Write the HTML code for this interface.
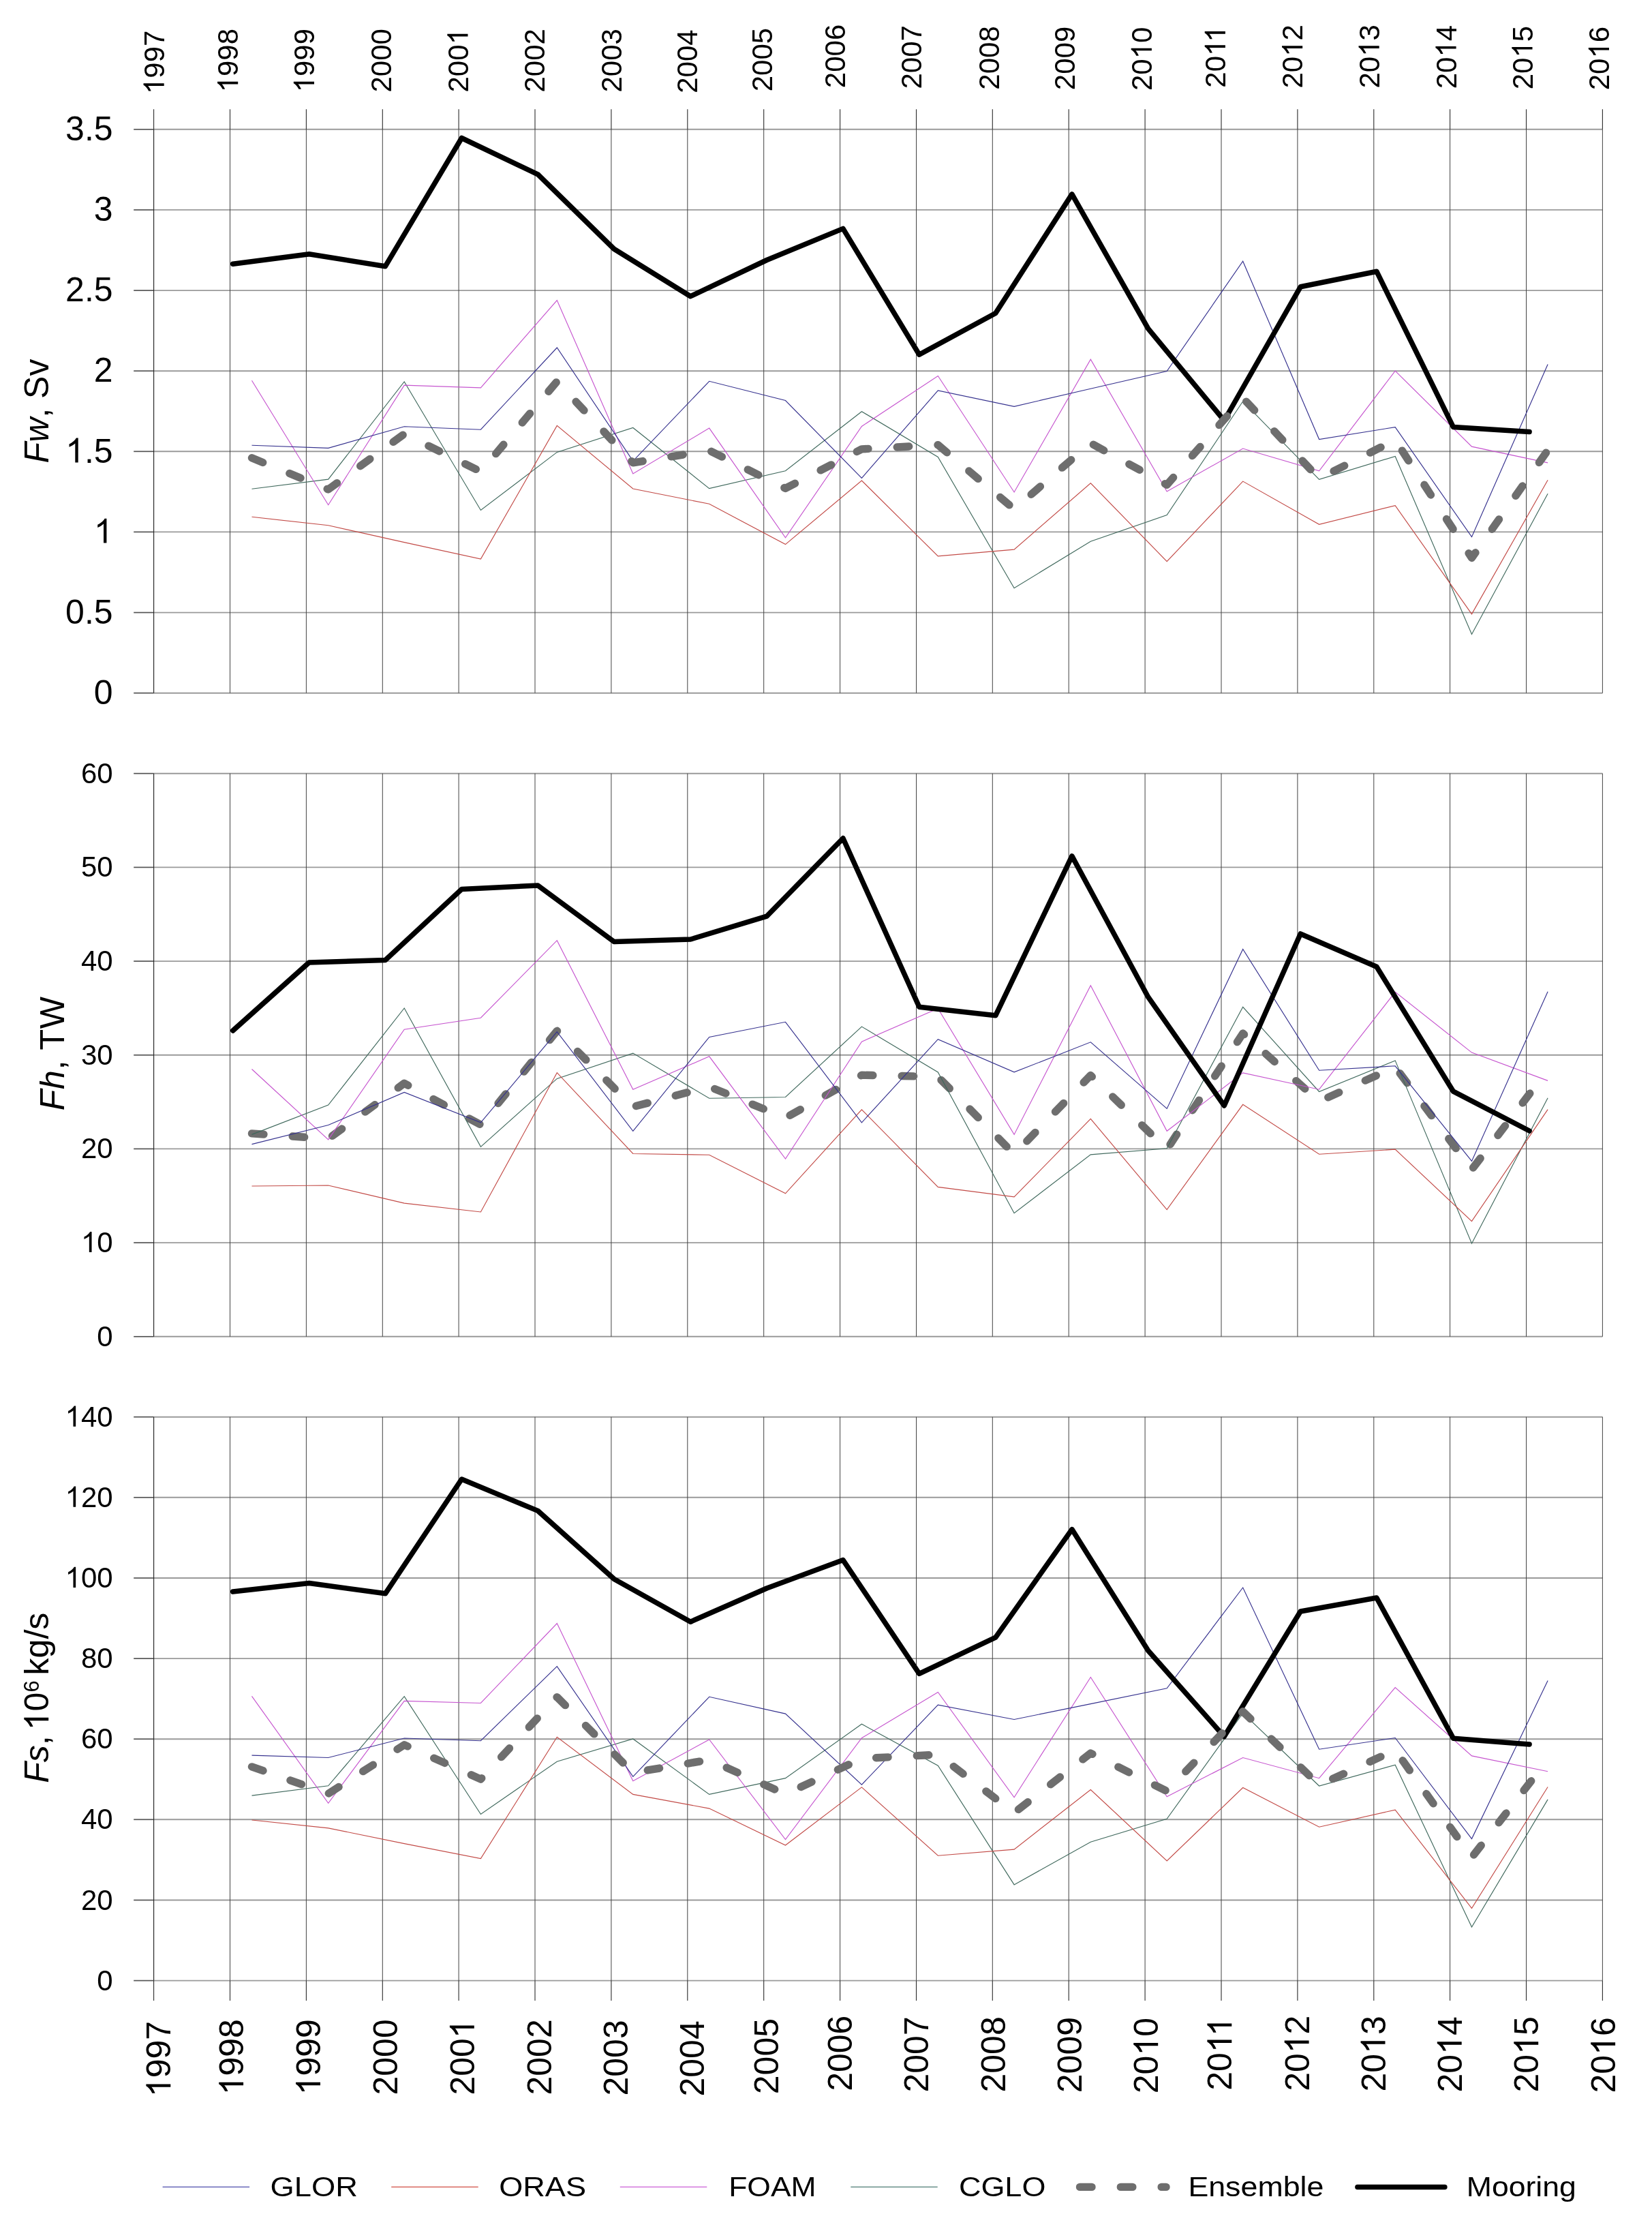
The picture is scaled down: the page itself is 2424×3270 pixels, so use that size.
<!DOCTYPE html>
<html><head><meta charset="utf-8"><title>Transport time series</title>
<style>html,body{margin:0;padding:0;background:#fff;}svg{display:block;will-change:transform;}text{font-family:"Liberation Sans",sans-serif;fill:#000;font-kerning:none;}</style>
</head><body>
<svg width="2424" height="3270" viewBox="0 0 2424 3270">
<rect x="0" y="0" width="2424" height="3270" fill="#ffffff"/>
<g id="panel1">
<line x1="225.6" y1="189.8" x2="2351.4" y2="189.8" stroke="#9a9a9a" stroke-width="1.9"/>
<line x1="196.2" y1="189.8" x2="225.6" y2="189.8" stroke="#555" stroke-width="1.7"/>
<line x1="225.6" y1="307.9" x2="2351.4" y2="307.9" stroke="#9a9a9a" stroke-width="1.9"/>
<line x1="196.2" y1="307.9" x2="225.6" y2="307.9" stroke="#555" stroke-width="1.7"/>
<line x1="225.6" y1="426.1" x2="2351.4" y2="426.1" stroke="#9a9a9a" stroke-width="1.9"/>
<line x1="196.2" y1="426.1" x2="225.6" y2="426.1" stroke="#555" stroke-width="1.7"/>
<line x1="225.6" y1="544.2" x2="2351.4" y2="544.2" stroke="#9a9a9a" stroke-width="1.9"/>
<line x1="196.2" y1="544.2" x2="225.6" y2="544.2" stroke="#555" stroke-width="1.7"/>
<line x1="225.6" y1="662.3" x2="2351.4" y2="662.3" stroke="#9a9a9a" stroke-width="1.9"/>
<line x1="196.2" y1="662.3" x2="225.6" y2="662.3" stroke="#555" stroke-width="1.7"/>
<line x1="225.6" y1="780.4" x2="2351.4" y2="780.4" stroke="#9a9a9a" stroke-width="1.9"/>
<line x1="196.2" y1="780.4" x2="225.6" y2="780.4" stroke="#555" stroke-width="1.7"/>
<line x1="225.6" y1="898.6" x2="2351.4" y2="898.6" stroke="#9a9a9a" stroke-width="1.9"/>
<line x1="196.2" y1="898.6" x2="225.6" y2="898.6" stroke="#555" stroke-width="1.7"/>
<line x1="225.6" y1="1016.7" x2="2351.4" y2="1016.7" stroke="#9a9a9a" stroke-width="1.9"/>
<line x1="196.2" y1="1016.7" x2="225.6" y2="1016.7" stroke="#555" stroke-width="1.7"/>
<line x1="337.5" y1="189.8" x2="337.5" y2="1016.7" stroke="#424242" stroke-width="1.0"/>
<line x1="449.4" y1="189.8" x2="449.4" y2="1016.7" stroke="#424242" stroke-width="1.0"/>
<line x1="561.3" y1="189.8" x2="561.3" y2="1016.7" stroke="#424242" stroke-width="1.0"/>
<line x1="673.1" y1="189.8" x2="673.1" y2="1016.7" stroke="#424242" stroke-width="1.0"/>
<line x1="785.0" y1="189.8" x2="785.0" y2="1016.7" stroke="#424242" stroke-width="1.0"/>
<line x1="896.9" y1="189.8" x2="896.9" y2="1016.7" stroke="#424242" stroke-width="1.0"/>
<line x1="1008.8" y1="189.8" x2="1008.8" y2="1016.7" stroke="#424242" stroke-width="1.0"/>
<line x1="1120.7" y1="189.8" x2="1120.7" y2="1016.7" stroke="#424242" stroke-width="1.0"/>
<line x1="1232.6" y1="189.8" x2="1232.6" y2="1016.7" stroke="#424242" stroke-width="1.0"/>
<line x1="1344.5" y1="189.8" x2="1344.5" y2="1016.7" stroke="#424242" stroke-width="1.0"/>
<line x1="1456.3" y1="189.8" x2="1456.3" y2="1016.7" stroke="#424242" stroke-width="1.0"/>
<line x1="1568.2" y1="189.8" x2="1568.2" y2="1016.7" stroke="#424242" stroke-width="1.0"/>
<line x1="1680.1" y1="189.8" x2="1680.1" y2="1016.7" stroke="#424242" stroke-width="1.0"/>
<line x1="1792.0" y1="189.8" x2="1792.0" y2="1016.7" stroke="#424242" stroke-width="1.0"/>
<line x1="1903.9" y1="189.8" x2="1903.9" y2="1016.7" stroke="#424242" stroke-width="1.0"/>
<line x1="2015.8" y1="189.8" x2="2015.8" y2="1016.7" stroke="#424242" stroke-width="1.0"/>
<line x1="2127.6" y1="189.8" x2="2127.6" y2="1016.7" stroke="#424242" stroke-width="1.0"/>
<line x1="2239.5" y1="189.8" x2="2239.5" y2="1016.7" stroke="#424242" stroke-width="1.0"/>
<line x1="2351.4" y1="189.8" x2="2351.4" y2="1016.7" stroke="#424242" stroke-width="1.0"/>
<line x1="225.6" y1="160.3" x2="225.6" y2="189.8" stroke="#2a2a2a" stroke-width="1.1"/>
<line x1="337.5" y1="160.3" x2="337.5" y2="189.8" stroke="#2a2a2a" stroke-width="1.1"/>
<line x1="449.4" y1="160.3" x2="449.4" y2="189.8" stroke="#2a2a2a" stroke-width="1.1"/>
<line x1="561.3" y1="160.3" x2="561.3" y2="189.8" stroke="#2a2a2a" stroke-width="1.1"/>
<line x1="673.1" y1="160.3" x2="673.1" y2="189.8" stroke="#2a2a2a" stroke-width="1.1"/>
<line x1="785.0" y1="160.3" x2="785.0" y2="189.8" stroke="#2a2a2a" stroke-width="1.1"/>
<line x1="896.9" y1="160.3" x2="896.9" y2="189.8" stroke="#2a2a2a" stroke-width="1.1"/>
<line x1="1008.8" y1="160.3" x2="1008.8" y2="189.8" stroke="#2a2a2a" stroke-width="1.1"/>
<line x1="1120.7" y1="160.3" x2="1120.7" y2="189.8" stroke="#2a2a2a" stroke-width="1.1"/>
<line x1="1232.6" y1="160.3" x2="1232.6" y2="189.8" stroke="#2a2a2a" stroke-width="1.1"/>
<line x1="1344.5" y1="160.3" x2="1344.5" y2="189.8" stroke="#2a2a2a" stroke-width="1.1"/>
<line x1="1456.3" y1="160.3" x2="1456.3" y2="189.8" stroke="#2a2a2a" stroke-width="1.1"/>
<line x1="1568.2" y1="160.3" x2="1568.2" y2="189.8" stroke="#2a2a2a" stroke-width="1.1"/>
<line x1="1680.1" y1="160.3" x2="1680.1" y2="189.8" stroke="#2a2a2a" stroke-width="1.1"/>
<line x1="1792.0" y1="160.3" x2="1792.0" y2="189.8" stroke="#2a2a2a" stroke-width="1.1"/>
<line x1="1903.9" y1="160.3" x2="1903.9" y2="189.8" stroke="#2a2a2a" stroke-width="1.1"/>
<line x1="2015.8" y1="160.3" x2="2015.8" y2="189.8" stroke="#2a2a2a" stroke-width="1.1"/>
<line x1="2127.6" y1="160.3" x2="2127.6" y2="189.8" stroke="#2a2a2a" stroke-width="1.1"/>
<line x1="2239.5" y1="160.3" x2="2239.5" y2="189.8" stroke="#2a2a2a" stroke-width="1.1"/>
<line x1="2351.4" y1="160.3" x2="2351.4" y2="189.8" stroke="#2a2a2a" stroke-width="1.1"/>
<line x1="225.6" y1="189.8" x2="225.6" y2="1016.7" stroke="#2a2a2a" stroke-width="1.2"/>
<polyline points="369.5,717.3 481.7,703.1 593.2,560.0 705.4,748.5 817.3,663.4 928.8,627.5 1040.7,716.6 1152.5,690.8 1264.4,603.7 1376.3,670.5 1488.1,862.7 1600.3,794.2 1712.2,755.6 1823.7,588.8 1935.6,703.4 2047.2,669.4 2159.5,930.4 2271.1,724.3" fill="none" stroke="#40695d" stroke-width="1.15" stroke-linejoin="miter"/>
<polyline points="369.5,558.3 481.7,740.7 593.2,565.1 705.4,568.8 817.3,440.5 928.8,694.9 1040.7,628.1 1152.5,788.8 1264.4,625.4 1376.3,551.5 1488.1,722.0 1600.3,527.2 1712.2,721.0 1823.7,658.0 1935.6,690.9 2047.2,544.1 2159.5,655.1 2271.1,678.9" fill="none" stroke="#c655cf" stroke-width="1.15" stroke-linejoin="miter"/>
<polyline points="369.5,758.3 481.7,770.8 593.2,795.6 705.4,820.0 817.3,624.4 928.8,717.0 1040.7,739.3 1152.5,798.6 1264.4,705.1 1376.3,815.9 1488.1,806.1 1600.3,708.8 1712.2,823.7 1823.7,706.1 1935.6,769.3 2047.2,741.7 2159.5,900.9 2271.1,704.3" fill="none" stroke="#c24a46" stroke-width="1.15" stroke-linejoin="miter"/>
<polyline points="369.5,653.2 481.7,657.3 593.2,625.8 705.4,630.2 817.3,510.0 928.8,676.3 1040.7,559.3 1152.5,587.5 1264.4,701.4 1376.3,572.9 1488.1,596.3 1600.3,570.2 1712.2,544.5 1823.7,383.2 1935.6,644.5 2047.2,626.6 2159.5,787.7 2271.1,534.6" fill="none" stroke="#35318e" stroke-width="1.15" stroke-linejoin="miter"/>
<polyline points="341.8,387.3 453.6,372.7 565.4,390.7 677.4,202.5 789.2,255.8 901.0,365.3 1013.2,434.7 1125.1,381.5 1237.0,335.4 1348.8,520.2 1460.8,459.5 1572.9,284.9 1684.7,482.2 1796.3,617.0 1908.2,420.8 2019.9,398.2 2132.5,626.6 2244.1,633.5" fill="none" stroke="#000" stroke-width="7.5" stroke-linecap="round" stroke-linejoin="round"/>
<polyline points="369.5,671.8 481.7,718.0 593.2,636.6 705.4,691.9 817.3,559.6 928.8,678.9 1040.7,660.8 1152.5,716.4 1264.4,658.9 1376.3,652.7 1488.1,746.8 1600.3,650.1 1712.2,711.2 1823.7,584.0 1935.6,702.0 2047.2,645.5 2159.5,818.5 2271.1,660.5" fill="none" stroke="#6e6e6e" stroke-width="11.4" stroke-linecap="round" stroke-linejoin="round" stroke-dasharray="17.5 42.34"/>
<g transform="translate(165.6,206.0)"><text x="-69.51" y="0" font-size="50">3.5</text></g>
<g transform="translate(165.6,324.1)"><text x="-27.81" y="0" font-size="50">3</text></g>
<g transform="translate(165.6,442.3)"><text x="-69.51" y="0" font-size="50">2.5</text></g>
<g transform="translate(165.6,560.4)"><text x="-27.81" y="0" font-size="50">2</text></g>
<g transform="translate(165.6,678.5)"><path transform="translate(-69.51,0) scale(0.02441,-0.02441)" d="M763 0h-180v1147q-65 -62 -170.5 -124t-189.5 -93v174q151 71 264 172t160 196h116v-1472z"/><text x="-41.70" y="0" font-size="50">.5</text></g>
<g transform="translate(165.6,796.6)"><path transform="translate(-27.81,0) scale(0.02441,-0.02441)" d="M763 0h-180v1147q-65 -62 -170.5 -124t-189.5 -93v174q151 71 264 172t160 196h116v-1472z"/></g>
<g transform="translate(165.6,914.8)"><text x="-69.51" y="0" font-size="50">0.5</text></g>
<g transform="translate(165.6,1032.9)"><text x="-27.81" y="0" font-size="50">0</text></g>
</g>
<g id="panel2">
<line x1="225.6" y1="1134.7" x2="2351.4" y2="1134.7" stroke="#9a9a9a" stroke-width="1.9"/>
<line x1="196.2" y1="1134.7" x2="225.6" y2="1134.7" stroke="#555" stroke-width="1.7"/>
<line x1="225.6" y1="1272.4" x2="2351.4" y2="1272.4" stroke="#9a9a9a" stroke-width="1.9"/>
<line x1="196.2" y1="1272.4" x2="225.6" y2="1272.4" stroke="#555" stroke-width="1.7"/>
<line x1="225.6" y1="1410.1" x2="2351.4" y2="1410.1" stroke="#9a9a9a" stroke-width="1.9"/>
<line x1="196.2" y1="1410.1" x2="225.6" y2="1410.1" stroke="#555" stroke-width="1.7"/>
<line x1="225.6" y1="1547.8" x2="2351.4" y2="1547.8" stroke="#9a9a9a" stroke-width="1.9"/>
<line x1="196.2" y1="1547.8" x2="225.6" y2="1547.8" stroke="#555" stroke-width="1.7"/>
<line x1="225.6" y1="1685.4" x2="2351.4" y2="1685.4" stroke="#9a9a9a" stroke-width="1.9"/>
<line x1="196.2" y1="1685.4" x2="225.6" y2="1685.4" stroke="#555" stroke-width="1.7"/>
<line x1="225.6" y1="1823.1" x2="2351.4" y2="1823.1" stroke="#9a9a9a" stroke-width="1.9"/>
<line x1="196.2" y1="1823.1" x2="225.6" y2="1823.1" stroke="#555" stroke-width="1.7"/>
<line x1="225.6" y1="1960.8" x2="2351.4" y2="1960.8" stroke="#9a9a9a" stroke-width="1.9"/>
<line x1="196.2" y1="1960.8" x2="225.6" y2="1960.8" stroke="#555" stroke-width="1.7"/>
<line x1="337.5" y1="1134.7" x2="337.5" y2="1960.8" stroke="#424242" stroke-width="1.0"/>
<line x1="449.4" y1="1134.7" x2="449.4" y2="1960.8" stroke="#424242" stroke-width="1.0"/>
<line x1="561.3" y1="1134.7" x2="561.3" y2="1960.8" stroke="#424242" stroke-width="1.0"/>
<line x1="673.1" y1="1134.7" x2="673.1" y2="1960.8" stroke="#424242" stroke-width="1.0"/>
<line x1="785.0" y1="1134.7" x2="785.0" y2="1960.8" stroke="#424242" stroke-width="1.0"/>
<line x1="896.9" y1="1134.7" x2="896.9" y2="1960.8" stroke="#424242" stroke-width="1.0"/>
<line x1="1008.8" y1="1134.7" x2="1008.8" y2="1960.8" stroke="#424242" stroke-width="1.0"/>
<line x1="1120.7" y1="1134.7" x2="1120.7" y2="1960.8" stroke="#424242" stroke-width="1.0"/>
<line x1="1232.6" y1="1134.7" x2="1232.6" y2="1960.8" stroke="#424242" stroke-width="1.0"/>
<line x1="1344.5" y1="1134.7" x2="1344.5" y2="1960.8" stroke="#424242" stroke-width="1.0"/>
<line x1="1456.3" y1="1134.7" x2="1456.3" y2="1960.8" stroke="#424242" stroke-width="1.0"/>
<line x1="1568.2" y1="1134.7" x2="1568.2" y2="1960.8" stroke="#424242" stroke-width="1.0"/>
<line x1="1680.1" y1="1134.7" x2="1680.1" y2="1960.8" stroke="#424242" stroke-width="1.0"/>
<line x1="1792.0" y1="1134.7" x2="1792.0" y2="1960.8" stroke="#424242" stroke-width="1.0"/>
<line x1="1903.9" y1="1134.7" x2="1903.9" y2="1960.8" stroke="#424242" stroke-width="1.0"/>
<line x1="2015.8" y1="1134.7" x2="2015.8" y2="1960.8" stroke="#424242" stroke-width="1.0"/>
<line x1="2127.6" y1="1134.7" x2="2127.6" y2="1960.8" stroke="#424242" stroke-width="1.0"/>
<line x1="2239.5" y1="1134.7" x2="2239.5" y2="1960.8" stroke="#424242" stroke-width="1.0"/>
<line x1="2351.4" y1="1134.7" x2="2351.4" y2="1960.8" stroke="#424242" stroke-width="1.0"/>
<line x1="225.6" y1="1134.7" x2="225.6" y2="1960.8" stroke="#2a2a2a" stroke-width="1.2"/>
<polyline points="369.5,1662.9 481.7,1670.6 593.2,1589.2 705.4,1650.1 817.3,1512.3 928.8,1623.8 1040.7,1594.2 1152.5,1639.9 1264.4,1577.2 1376.3,1579.6 1488.1,1693.2 1600.3,1577.5 1712.2,1686.2 1823.7,1516.0 1935.6,1615.8 2047.2,1565.3 2159.5,1715.8 2270.1,1570.9" fill="none" stroke="#6e6e6e" stroke-width="11.4" stroke-linecap="round" stroke-linejoin="round" stroke-dasharray="17.5 42.34"/>
<polyline points="369.5,1664.4 481.7,1621.0 593.2,1479.0 705.4,1682.4 817.3,1582.4 928.8,1545.1 1040.7,1611.2 1152.5,1609.5 1264.4,1506.1 1376.3,1572.9 1488.1,1779.7 1600.3,1693.9 1712.2,1684.7 1823.7,1477.3 1935.6,1601.5 2047.2,1555.9 2159.5,1824.2 2271.1,1610.8" fill="none" stroke="#40695d" stroke-width="1.15" stroke-linejoin="miter"/>
<polyline points="369.5,1568.5 481.7,1671.9 593.2,1510.2 705.4,1493.2 817.3,1379.7 928.8,1598.3 1040.7,1549.8 1152.5,1700.0 1264.4,1528.1 1376.3,1479.5 1488.1,1664.4 1600.3,1445.8 1712.2,1659.3 1823.7,1573.9 1935.6,1598.2 2047.2,1455.3 2159.5,1544.1 2271.1,1585.4" fill="none" stroke="#c655cf" stroke-width="1.15" stroke-linejoin="miter"/>
<polyline points="369.5,1740.0 481.7,1739.0 593.2,1765.1 705.4,1778.0 817.3,1573.6 928.8,1692.5 1040.7,1694.2 1152.5,1750.8 1264.4,1627.8 1376.3,1741.4 1488.1,1755.9 1600.3,1641.4 1712.2,1774.6 1823.7,1620.3 1935.6,1693.2 2047.2,1686.2 2159.5,1791.6 2271.1,1627.6" fill="none" stroke="#c24a46" stroke-width="1.15" stroke-linejoin="miter"/>
<polyline points="369.5,1678.6 481.7,1650.5 593.2,1602.4 705.4,1646.8 817.3,1513.6 928.8,1659.3 1040.7,1521.4 1152.5,1499.3 1264.4,1646.8 1376.3,1524.7 1488.1,1572.9 1600.3,1528.8 1712.2,1626.4 1823.7,1392.5 1935.6,1570.2 2047.2,1563.8 2159.5,1703.4 2271.1,1454.7" fill="none" stroke="#35318e" stroke-width="1.15" stroke-linejoin="miter"/>
<polyline points="341.8,1511.9 453.6,1411.9 565.4,1408.5 677.4,1304.4 789.2,1299.0 901.0,1381.4 1013.2,1378.0 1125.1,1344.1 1237.0,1229.8 1348.8,1477.3 1460.8,1489.8 1572.9,1255.9 1684.7,1462.7 1796.3,1622.0 1908.2,1370.0 2019.9,1418.2 2132.5,1601.2 2244.1,1659.0" fill="none" stroke="#000" stroke-width="7.5" stroke-linecap="round" stroke-linejoin="round"/>
<g transform="translate(165.6,1148.7)"><text x="-46.72" y="0" font-size="42">60</text></g>
<g transform="translate(165.6,1286.4)"><text x="-46.72" y="0" font-size="42">50</text></g>
<g transform="translate(165.6,1424.1)"><text x="-46.72" y="0" font-size="42">40</text></g>
<g transform="translate(165.6,1561.8)"><text x="-46.72" y="0" font-size="42">30</text></g>
<g transform="translate(165.6,1699.4)"><text x="-46.72" y="0" font-size="42">20</text></g>
<g transform="translate(165.6,1837.1)"><path transform="translate(-46.72,0) scale(0.02051,-0.02051)" d="M763 0h-180v1147q-65 -62 -170.5 -124t-189.5 -93v174q151 71 264 172t160 196h116v-1472z"/><text x="-23.36" y="0" font-size="42">0</text></g>
<g transform="translate(165.6,1974.8)"><text x="-23.36" y="0" font-size="42">0</text></g>
</g>
<g id="panel3">
<line x1="225.6" y1="2078.7" x2="2351.4" y2="2078.7" stroke="#9a9a9a" stroke-width="1.9"/>
<line x1="196.2" y1="2078.7" x2="225.6" y2="2078.7" stroke="#555" stroke-width="1.7"/>
<line x1="225.6" y1="2196.8" x2="2351.4" y2="2196.8" stroke="#9a9a9a" stroke-width="1.9"/>
<line x1="196.2" y1="2196.8" x2="225.6" y2="2196.8" stroke="#555" stroke-width="1.7"/>
<line x1="225.6" y1="2315.0" x2="2351.4" y2="2315.0" stroke="#9a9a9a" stroke-width="1.9"/>
<line x1="196.2" y1="2315.0" x2="225.6" y2="2315.0" stroke="#555" stroke-width="1.7"/>
<line x1="225.6" y1="2433.1" x2="2351.4" y2="2433.1" stroke="#9a9a9a" stroke-width="1.9"/>
<line x1="196.2" y1="2433.1" x2="225.6" y2="2433.1" stroke="#555" stroke-width="1.7"/>
<line x1="225.6" y1="2551.2" x2="2351.4" y2="2551.2" stroke="#9a9a9a" stroke-width="1.9"/>
<line x1="196.2" y1="2551.2" x2="225.6" y2="2551.2" stroke="#555" stroke-width="1.7"/>
<line x1="225.6" y1="2669.3" x2="2351.4" y2="2669.3" stroke="#9a9a9a" stroke-width="1.9"/>
<line x1="196.2" y1="2669.3" x2="225.6" y2="2669.3" stroke="#555" stroke-width="1.7"/>
<line x1="225.6" y1="2787.5" x2="2351.4" y2="2787.5" stroke="#9a9a9a" stroke-width="1.9"/>
<line x1="196.2" y1="2787.5" x2="225.6" y2="2787.5" stroke="#555" stroke-width="1.7"/>
<line x1="225.6" y1="2905.6" x2="2351.4" y2="2905.6" stroke="#9a9a9a" stroke-width="1.9"/>
<line x1="196.2" y1="2905.6" x2="225.6" y2="2905.6" stroke="#555" stroke-width="1.7"/>
<line x1="337.5" y1="2078.7" x2="337.5" y2="2905.6" stroke="#424242" stroke-width="1.0"/>
<line x1="449.4" y1="2078.7" x2="449.4" y2="2905.6" stroke="#424242" stroke-width="1.0"/>
<line x1="561.3" y1="2078.7" x2="561.3" y2="2905.6" stroke="#424242" stroke-width="1.0"/>
<line x1="673.1" y1="2078.7" x2="673.1" y2="2905.6" stroke="#424242" stroke-width="1.0"/>
<line x1="785.0" y1="2078.7" x2="785.0" y2="2905.6" stroke="#424242" stroke-width="1.0"/>
<line x1="896.9" y1="2078.7" x2="896.9" y2="2905.6" stroke="#424242" stroke-width="1.0"/>
<line x1="1008.8" y1="2078.7" x2="1008.8" y2="2905.6" stroke="#424242" stroke-width="1.0"/>
<line x1="1120.7" y1="2078.7" x2="1120.7" y2="2905.6" stroke="#424242" stroke-width="1.0"/>
<line x1="1232.6" y1="2078.7" x2="1232.6" y2="2905.6" stroke="#424242" stroke-width="1.0"/>
<line x1="1344.5" y1="2078.7" x2="1344.5" y2="2905.6" stroke="#424242" stroke-width="1.0"/>
<line x1="1456.3" y1="2078.7" x2="1456.3" y2="2905.6" stroke="#424242" stroke-width="1.0"/>
<line x1="1568.2" y1="2078.7" x2="1568.2" y2="2905.6" stroke="#424242" stroke-width="1.0"/>
<line x1="1680.1" y1="2078.7" x2="1680.1" y2="2905.6" stroke="#424242" stroke-width="1.0"/>
<line x1="1792.0" y1="2078.7" x2="1792.0" y2="2905.6" stroke="#424242" stroke-width="1.0"/>
<line x1="1903.9" y1="2078.7" x2="1903.9" y2="2905.6" stroke="#424242" stroke-width="1.0"/>
<line x1="2015.8" y1="2078.7" x2="2015.8" y2="2905.6" stroke="#424242" stroke-width="1.0"/>
<line x1="2127.6" y1="2078.7" x2="2127.6" y2="2905.6" stroke="#424242" stroke-width="1.0"/>
<line x1="2239.5" y1="2078.7" x2="2239.5" y2="2905.6" stroke="#424242" stroke-width="1.0"/>
<line x1="2351.4" y1="2078.7" x2="2351.4" y2="2905.6" stroke="#424242" stroke-width="1.0"/>
<line x1="225.6" y1="2905.6" x2="225.6" y2="2935" stroke="#2a2a2a" stroke-width="1.1"/>
<line x1="337.5" y1="2905.6" x2="337.5" y2="2935" stroke="#2a2a2a" stroke-width="1.1"/>
<line x1="449.4" y1="2905.6" x2="449.4" y2="2935" stroke="#2a2a2a" stroke-width="1.1"/>
<line x1="561.3" y1="2905.6" x2="561.3" y2="2935" stroke="#2a2a2a" stroke-width="1.1"/>
<line x1="673.1" y1="2905.6" x2="673.1" y2="2935" stroke="#2a2a2a" stroke-width="1.1"/>
<line x1="785.0" y1="2905.6" x2="785.0" y2="2935" stroke="#2a2a2a" stroke-width="1.1"/>
<line x1="896.9" y1="2905.6" x2="896.9" y2="2935" stroke="#2a2a2a" stroke-width="1.1"/>
<line x1="1008.8" y1="2905.6" x2="1008.8" y2="2935" stroke="#2a2a2a" stroke-width="1.1"/>
<line x1="1120.7" y1="2905.6" x2="1120.7" y2="2935" stroke="#2a2a2a" stroke-width="1.1"/>
<line x1="1232.6" y1="2905.6" x2="1232.6" y2="2935" stroke="#2a2a2a" stroke-width="1.1"/>
<line x1="1344.5" y1="2905.6" x2="1344.5" y2="2935" stroke="#2a2a2a" stroke-width="1.1"/>
<line x1="1456.3" y1="2905.6" x2="1456.3" y2="2935" stroke="#2a2a2a" stroke-width="1.1"/>
<line x1="1568.2" y1="2905.6" x2="1568.2" y2="2935" stroke="#2a2a2a" stroke-width="1.1"/>
<line x1="1680.1" y1="2905.6" x2="1680.1" y2="2935" stroke="#2a2a2a" stroke-width="1.1"/>
<line x1="1792.0" y1="2905.6" x2="1792.0" y2="2935" stroke="#2a2a2a" stroke-width="1.1"/>
<line x1="1903.9" y1="2905.6" x2="1903.9" y2="2935" stroke="#2a2a2a" stroke-width="1.1"/>
<line x1="2015.8" y1="2905.6" x2="2015.8" y2="2935" stroke="#2a2a2a" stroke-width="1.1"/>
<line x1="2127.6" y1="2905.6" x2="2127.6" y2="2935" stroke="#2a2a2a" stroke-width="1.1"/>
<line x1="2239.5" y1="2905.6" x2="2239.5" y2="2935" stroke="#2a2a2a" stroke-width="1.1"/>
<line x1="2351.4" y1="2905.6" x2="2351.4" y2="2935" stroke="#2a2a2a" stroke-width="1.1"/>
<line x1="225.6" y1="2078.7" x2="225.6" y2="2905.6" stroke="#2a2a2a" stroke-width="1.2"/>
<polyline points="369.5,2634.1 481.7,2619.8 593.2,2488.6 705.4,2661.5 817.3,2584.2 928.8,2551.0 1040.7,2632.4 1152.5,2608.6 1264.4,2529.3 1376.3,2590.3 1488.1,2764.9 1600.3,2702.2 1712.2,2668.3 1823.7,2513.1 1935.6,2620.0 2047.2,2589.2 2159.5,2827.1 2271.1,2639.9" fill="none" stroke="#40695d" stroke-width="1.15" stroke-linejoin="miter"/>
<polyline points="369.5,2488.3 481.7,2645.3 593.2,2495.4 705.4,2498.5 817.3,2381.5 928.8,2612.7 1040.7,2552.0 1152.5,2698.5 1264.4,2549.7 1376.3,2482.5 1488.1,2636.8 1600.3,2460.5 1712.2,2635.8 1823.7,2578.5 1935.6,2608.7 2047.2,2475.6 2159.5,2575.9 2271.1,2598.7" fill="none" stroke="#c655cf" stroke-width="1.15" stroke-linejoin="miter"/>
<polyline points="369.5,2670.0 481.7,2681.9 593.2,2704.6 705.4,2726.6 817.3,2548.3 928.8,2632.4 1040.7,2653.1 1152.5,2707.0 1264.4,2621.9 1376.3,2722.2 1488.1,2713.1 1600.3,2625.6 1712.2,2730.0 1823.7,2622.5 1935.6,2680.2 2047.2,2655.1 2159.5,2799.5 2271.1,2621.5" fill="none" stroke="#c24a46" stroke-width="1.15" stroke-linejoin="miter"/>
<polyline points="369.5,2575.1 481.7,2578.5 593.2,2550.0 705.4,2553.7 817.3,2444.6 928.8,2606.3 1040.7,2489.3 1152.5,2514.1 1264.4,2618.1 1376.3,2501.2 1488.1,2522.5 1600.3,2499.6 1712.2,2476.8 1823.7,2329.0 1935.6,2566.2 2047.2,2549.5 2159.5,2697.6 2271.1,2465.5" fill="none" stroke="#35318e" stroke-width="1.15" stroke-linejoin="miter"/>
<polyline points="341.8,2335.1 453.6,2322.5 565.4,2337.8 677.4,2170.0 789.2,2216.4 901.0,2316.4 1013.2,2379.2 1125.1,2330.0 1237.0,2288.6 1348.8,2455.4 1460.8,2402.2 1572.9,2243.6 1684.7,2421.5 1796.3,2547.6 1908.2,2364.0 2019.9,2344.0 2132.5,2550.2 2244.1,2559.0" fill="none" stroke="#000" stroke-width="7.5" stroke-linecap="round" stroke-linejoin="round"/>
<polyline points="369.5,2591.9 481.7,2631.4 593.2,2559.7 705.4,2610.1 817.3,2489.6 928.8,2600.6 1040.7,2581.7 1152.5,2632.1 1264.4,2579.8 1376.3,2574.1 1488.1,2659.3 1600.3,2572.0 1712.2,2627.7 1823.7,2510.8 1935.6,2618.8 2047.2,2567.4 2159.5,2725.0 2271.1,2581.4" fill="none" stroke="#6e6e6e" stroke-width="11.4" stroke-linecap="round" stroke-linejoin="round" stroke-dasharray="17.5 42.34"/>
<g transform="translate(165.6,2092.7)"><path transform="translate(-70.08,0) scale(0.02051,-0.02051)" d="M763 0h-180v1147q-65 -62 -170.5 -124t-189.5 -93v174q151 71 264 172t160 196h116v-1472z"/><text x="-46.72" y="0" font-size="42">40</text></g>
<g transform="translate(165.6,2210.8)"><path transform="translate(-70.08,0) scale(0.02051,-0.02051)" d="M763 0h-180v1147q-65 -62 -170.5 -124t-189.5 -93v174q151 71 264 172t160 196h116v-1472z"/><text x="-46.72" y="0" font-size="42">20</text></g>
<g transform="translate(165.6,2329.0)"><path transform="translate(-70.08,0) scale(0.02051,-0.02051)" d="M763 0h-180v1147q-65 -62 -170.5 -124t-189.5 -93v174q151 71 264 172t160 196h116v-1472z"/><text x="-46.72" y="0" font-size="42">00</text></g>
<g transform="translate(165.6,2447.1)"><text x="-46.72" y="0" font-size="42">80</text></g>
<g transform="translate(165.6,2565.2)"><text x="-46.72" y="0" font-size="42">60</text></g>
<g transform="translate(165.6,2683.3)"><text x="-46.72" y="0" font-size="42">40</text></g>
<g transform="translate(165.6,2801.5)"><text x="-46.72" y="0" font-size="42">20</text></g>
<g transform="translate(165.6,2919.6)"><text x="-23.36" y="0" font-size="42">0</text></g>
</g>
<text transform="translate(71.4,603) rotate(-90)" font-size="50" text-anchor="middle"><tspan font-style="italic">Fw</tspan>, Sv</text>
<text transform="translate(93.7,1545.3) rotate(-90)" font-size="50" text-anchor="middle" letter-spacing="0.7"><tspan font-style="italic">Fh</tspan>, TW</text>
<g transform="translate(71.2,2615.8) rotate(-90)"><text x="0" y="0" font-size="50"><tspan font-style="italic">Fs</tspan>,</text><path transform="translate(77.4,0) scale(0.02441,-0.02441)" d="M763 0h-180v1147q-65 -62 -170.5 -124t-189.5 -93v174q151 71 264 172t160 196h116v-1472z"/><text x="105.2" y="0" font-size="50">0</text><text x="133.2" y="-14.3" font-size="31">6</text><text x="158.4" y="0" font-size="50">kg/s</text></g>
<g id="toplabels" font-size="42">
<g transform="translate(240.7,138.0) rotate(-90)"><path transform="translate(0.00,0) scale(0.02051,-0.02051)" d="M763 0h-180v1147q-65 -62 -170.5 -124t-189.5 -93v174q151 71 264 172t160 196h116v-1472z"/><text x="23.36" y="0" font-size="42">997</text></g>
<g transform="translate(349.2,135.4) rotate(-90)"><path transform="translate(0.00,0) scale(0.02051,-0.02051)" d="M763 0h-180v1147q-65 -62 -170.5 -124t-189.5 -93v174q151 71 264 172t160 196h116v-1472z"/><text x="23.36" y="0" font-size="42">998</text></g>
<g transform="translate(461.0,135.4) rotate(-90)"><path transform="translate(0.00,0) scale(0.02051,-0.02051)" d="M763 0h-180v1147q-65 -62 -170.5 -124t-189.5 -93v174q151 71 264 172t160 196h116v-1472z"/><text x="23.36" y="0" font-size="42">999</text></g>
<g transform="translate(574.2,135.5) rotate(-90)"><text x="0.00" y="0" font-size="42">2000</text></g>
<g transform="translate(686.5,135.5) rotate(-90)"><text x="0.00" y="0" font-size="42">200</text><path transform="translate(70.08,0) scale(0.02051,-0.02051)" d="M763 0h-180v1147q-65 -62 -170.5 -124t-189.5 -93v174q151 71 264 172t160 196h116v-1472z"/></g>
<g transform="translate(799.2,135.5) rotate(-90)"><text x="0.00" y="0" font-size="42">2002</text></g>
<g transform="translate(911.6,135.5) rotate(-90)"><text x="0.00" y="0" font-size="42">2003</text></g>
<g transform="translate(1023.1,136.8) rotate(-90)"><text x="0.00" y="0" font-size="42">2004</text></g>
<g transform="translate(1132.9,134.3) rotate(-90)"><text x="0.00" y="0" font-size="42">2005</text></g>
<g transform="translate(1240.2,129.2) rotate(-90)"><text x="0.00" y="0" font-size="42">2006</text></g>
<g transform="translate(1352.3,130.5) rotate(-90)"><text x="0.00" y="0" font-size="42">2007</text></g>
<g transform="translate(1465.6,131.7) rotate(-90)"><text x="0.00" y="0" font-size="42">2008</text></g>
<g transform="translate(1577.2,132.2) rotate(-90)"><text x="0.00" y="0" font-size="42">2009</text></g>
<g transform="translate(1689.9,133.0) rotate(-90)"><text x="0.00" y="0" font-size="42">20</text><path transform="translate(46.72,0) scale(0.02051,-0.02051)" d="M763 0h-180v1147q-65 -62 -170.5 -124t-189.5 -93v174q151 71 264 172t160 196h116v-1472z"/><text x="70.08" y="0" font-size="42">0</text></g>
<g transform="translate(1797.9,128.7) rotate(-90)"><text x="0.00" y="0" font-size="42">20</text><path transform="translate(46.72,0) scale(0.02051,-0.02051)" d="M763 0h-180v1147q-65 -62 -170.5 -124t-189.5 -93v174q151 71 264 172t160 196h116v-1472z"/><path transform="translate(66.97,0) scale(0.02051,-0.02051)" d="M763 0h-180v1147q-65 -62 -170.5 -124t-189.5 -93v174q151 71 264 172t160 196h116v-1472z"/></g>
<g transform="translate(1911.2,129.6) rotate(-90)"><text x="0.00" y="0" font-size="42">20</text><path transform="translate(46.72,0) scale(0.02051,-0.02051)" d="M763 0h-180v1147q-65 -62 -170.5 -124t-189.5 -93v174q151 71 264 172t160 196h116v-1472z"/><text x="70.08" y="0" font-size="42">2</text></g>
<g transform="translate(2023.7,129.6) rotate(-90)"><text x="0.00" y="0" font-size="42">20</text><path transform="translate(46.72,0) scale(0.02051,-0.02051)" d="M763 0h-180v1147q-65 -62 -170.5 -124t-189.5 -93v174q151 71 264 172t160 196h116v-1472z"/><text x="70.08" y="0" font-size="42">3</text></g>
<g transform="translate(2136.6,130.3) rotate(-90)"><text x="0.00" y="0" font-size="42">20</text><path transform="translate(46.72,0) scale(0.02051,-0.02051)" d="M763 0h-180v1147q-65 -62 -170.5 -124t-189.5 -93v174q151 71 264 172t160 196h116v-1472z"/><text x="70.08" y="0" font-size="42">4</text></g>
<g transform="translate(2248.5,131.3) rotate(-90)"><text x="0.00" y="0" font-size="42">20</text><path transform="translate(46.72,0) scale(0.02051,-0.02051)" d="M763 0h-180v1147q-65 -62 -170.5 -124t-189.5 -93v174q151 71 264 172t160 196h116v-1472z"/><text x="70.08" y="0" font-size="42">5</text></g>
<g transform="translate(2361.0,132.3) rotate(-90)"><text x="0.00" y="0" font-size="42">20</text><path transform="translate(46.72,0) scale(0.02051,-0.02051)" d="M763 0h-180v1147q-65 -62 -170.5 -124t-189.5 -93v174q151 71 264 172t160 196h116v-1472z"/><text x="70.08" y="0" font-size="42">6</text></g>
</g>
<g id="botlabels" font-size="50">
<g transform="translate(250.3,3076.1) rotate(-90)"><path transform="translate(0.00,0) scale(0.02441,-0.02441)" d="M763 0h-180v1147q-65 -62 -170.5 -124t-189.5 -93v174q151 71 264 172t160 196h116v-1472z"/><text x="27.81" y="0" font-size="50">997</text></g>
<g transform="translate(357.1,3073.4) rotate(-90)"><path transform="translate(0.00,0) scale(0.02441,-0.02441)" d="M763 0h-180v1147q-65 -62 -170.5 -124t-189.5 -93v174q151 71 264 172t160 196h116v-1472z"/><text x="27.81" y="0" font-size="50">998</text></g>
<g transform="translate(470.0,3073.4) rotate(-90)"><path transform="translate(0.00,0) scale(0.02441,-0.02441)" d="M763 0h-180v1147q-65 -62 -170.5 -124t-189.5 -93v174q151 71 264 172t160 196h116v-1472z"/><text x="27.81" y="0" font-size="50">999</text></g>
<g transform="translate(583.2,3073.5) rotate(-90)"><text x="0.00" y="0" font-size="50">2000</text></g>
<g transform="translate(695.8,3073.5) rotate(-90)"><text x="0.00" y="0" font-size="50">200</text><path transform="translate(83.42,0) scale(0.02441,-0.02441)" d="M763 0h-180v1147q-65 -62 -170.5 -124t-189.5 -93v174q151 71 264 172t160 196h116v-1472z"/></g>
<g transform="translate(809.3,3073.5) rotate(-90)"><text x="0.00" y="0" font-size="50">2002</text></g>
<g transform="translate(920.5,3074.5) rotate(-90)"><text x="0.00" y="0" font-size="50">2003</text></g>
<g transform="translate(1033.1,3075.5) rotate(-90)"><text x="0.00" y="0" font-size="50">2004</text></g>
<g transform="translate(1142.2,3072.2) rotate(-90)"><text x="0.00" y="0" font-size="50">2005</text></g>
<g transform="translate(1250.0,3067.8) rotate(-90)"><text x="0.00" y="0" font-size="50">2006</text></g>
<g transform="translate(1361.9,3069.5) rotate(-90)"><text x="0.00" y="0" font-size="50">2007</text></g>
<g transform="translate(1475.1,3069.5) rotate(-90)"><text x="0.00" y="0" font-size="50">2008</text></g>
<g transform="translate(1587.3,3070.2) rotate(-90)"><text x="0.00" y="0" font-size="50">2009</text></g>
<g transform="translate(1699.2,3071.2) rotate(-90)"><text x="0.00" y="0" font-size="50">20</text><path transform="translate(55.62,0) scale(0.02441,-0.02441)" d="M763 0h-180v1147q-65 -62 -170.5 -124t-189.5 -93v174q151 71 264 172t160 196h116v-1472z"/><text x="83.42" y="0" font-size="50">0</text></g>
<g transform="translate(1807.3,3066.8) rotate(-90)"><text x="0.00" y="0" font-size="50">20</text><path transform="translate(55.62,0) scale(0.02441,-0.02441)" d="M763 0h-180v1147q-65 -62 -170.5 -124t-189.5 -93v174q151 71 264 172t160 196h116v-1472z"/><path transform="translate(79.72,0) scale(0.02441,-0.02441)" d="M763 0h-180v1147q-65 -62 -170.5 -124t-189.5 -93v174q151 71 264 172t160 196h116v-1472z"/></g>
<g transform="translate(1920.6,3067.8) rotate(-90)"><text x="0.00" y="0" font-size="50">20</text><path transform="translate(55.62,0) scale(0.02441,-0.02441)" d="M763 0h-180v1147q-65 -62 -170.5 -124t-189.5 -93v174q151 71 264 172t160 196h116v-1472z"/><text x="83.42" y="0" font-size="50">2</text></g>
<g transform="translate(2032.5,3068.5) rotate(-90)"><text x="0.00" y="0" font-size="50">20</text><path transform="translate(55.62,0) scale(0.02441,-0.02441)" d="M763 0h-180v1147q-65 -62 -170.5 -124t-189.5 -93v174q151 71 264 172t160 196h116v-1472z"/><text x="83.42" y="0" font-size="50">3</text></g>
<g transform="translate(2144.7,3069.5) rotate(-90)"><text x="0.00" y="0" font-size="50">20</text><path transform="translate(55.62,0) scale(0.02441,-0.02441)" d="M763 0h-180v1147q-65 -62 -170.5 -124t-189.5 -93v174q151 71 264 172t160 196h116v-1472z"/><text x="83.42" y="0" font-size="50">4</text></g>
<g transform="translate(2257.2,3069.5) rotate(-90)"><text x="0.00" y="0" font-size="50">20</text><path transform="translate(55.62,0) scale(0.02441,-0.02441)" d="M763 0h-180v1147q-65 -62 -170.5 -124t-189.5 -93v174q151 71 264 172t160 196h116v-1472z"/><text x="83.42" y="0" font-size="50">5</text></g>
<g transform="translate(2370.1,3070.5) rotate(-90)"><text x="0.00" y="0" font-size="50">20</text><path transform="translate(55.62,0) scale(0.02441,-0.02441)" d="M763 0h-180v1147q-65 -62 -170.5 -124t-189.5 -93v174q151 71 264 172t160 196h116v-1472z"/><text x="83.42" y="0" font-size="50">6</text></g>
</g>
<g id="legend" font-size="41">
<line x1="238.6" y1="3208.4" x2="366.1" y2="3208.4" stroke="#7a7ac0" stroke-width="1.9"/>
<text x="396.6" y="3222.2" textLength="128.4" lengthAdjust="spacingAndGlyphs">GLOR</text>
<line x1="574.2" y1="3208.4" x2="701.7" y2="3208.4" stroke="#dc7a72" stroke-width="1.9"/>
<text x="732.2" y="3222.2" textLength="127.8" lengthAdjust="spacingAndGlyphs">ORAS</text>
<line x1="909.8" y1="3208.4" x2="1037.3" y2="3208.4" stroke="#d886e0" stroke-width="1.9"/>
<text x="1069.2" y="3222.2" textLength="128.4" lengthAdjust="spacingAndGlyphs">FOAM</text>
<line x1="1248.3" y1="3208.4" x2="1375.7" y2="3208.4" stroke="#7a9c96" stroke-width="1.9"/>
<text x="1406.9" y="3222.2" textLength="127.5" lengthAdjust="spacingAndGlyphs">CGLO</text>
<line x1="1584.5" y1="3208.4" x2="1711" y2="3208.4" stroke="#6e6e6e" stroke-width="11.4" stroke-linecap="round" stroke-dasharray="17.5 42.34"/>
<text x="1743.4" y="3222.2" textLength="199" lengthAdjust="spacingAndGlyphs">Ensemble</text>
<line x1="1991.9" y1="3208.4" x2="2119.9" y2="3208.4" stroke="#000" stroke-width="7.5" stroke-linecap="round"/>
<text x="2151.8" y="3222.2" textLength="161" lengthAdjust="spacingAndGlyphs">Mooring</text>
</g>
</svg>
</body></html>
